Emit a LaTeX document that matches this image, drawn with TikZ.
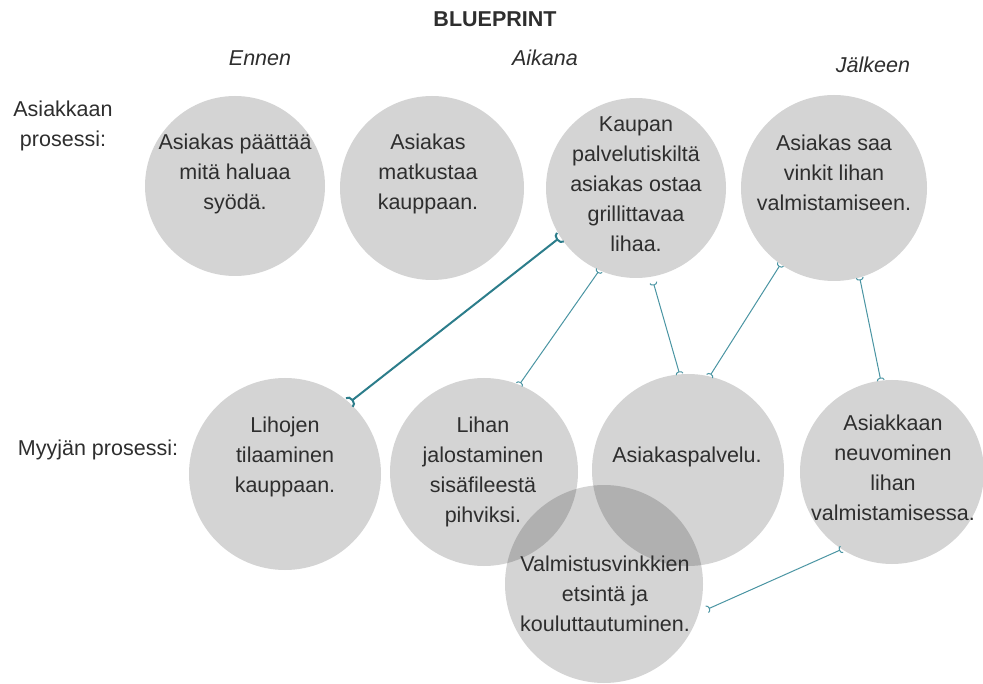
\documentclass[tikz,border=0pt]{standalone}
\usepackage{fontspec}
\setmainfont{Liberation Sans}
\usetikzlibrary{arrows.meta}
\definecolor{txt}{HTML}{2E2E2E}
\definecolor{tealA}{HTML}{2C7D8B}
\definecolor{tealB}{HTML}{4A95A3}
\begin{document}
\begin{tikzpicture}[x=1pt,y=-1pt,
  bubble/.style={circle,fill=black,fill opacity=0.17,inner sep=0pt,draw=none},
  btext/.style={align=center,text=txt,font=\fontsize{21.5}{30}\selectfont,inner sep=0pt},
  lbl/.style={text=txt,font=\fontsize{21.5}{30}\selectfont,align=center,inner sep=0pt},
  thick link/.style={draw=tealA,line width=2pt,{Arc Barb[reversed,width=13pt,length=5pt]}-{Arc Barb[reversed,width=13pt,length=5pt]}},
  thin link/.style={draw=tealB,line width=1pt,{Arc Barb[reversed,width=8pt,length=3pt]}-{Arc Barb[reversed,width=8pt,length=3pt]}}
]
\useasboundingbox (0,0) rectangle (983,684);
\fill[white] (0,0) rectangle (983,684);

% circles
\node[bubble,minimum size=180pt] (c1) at (235,186) {};
\node[bubble,minimum size=184pt] (c2) at (432,188) {};
\node[bubble,minimum size=180pt] (c3) at (636,188) {};
\node[bubble,minimum size=186pt] (c4) at (834,188) {};
\node[bubble,minimum size=192pt] (c5) at (285,474) {};
\node[bubble,minimum size=188pt] (c6) at (484,472) {};
\node[bubble,minimum size=192pt] (c7) at (688,470) {};
\node[bubble,minimum size=184pt] (c8) at (892,472) {};
\node[bubble,minimum size=198pt] (c9) at (604,584) {};

% circle texts
\node[btext] (t1) at (235,174) {Asiakas päättää\\mitä haluaa\\syödä.};
\node[btext] (t2) at (428,174) {Asiakas\\matkustaa\\kauppaan.};
\node[btext] (t3) at (636,184) {Kaupan\\palvelutiskiltä\\asiakas ostaa\\grillittavaa\\lihaa.};
\node[btext] (t4) at (834,173) {Asiakas saa\\vinkit lihan\\valmistamiseen.};
\node[btext] (t5) at (285,457) {Lihojen\\tilaaminen\\kauppaan.};
\node[btext] (t6) at (483,472) {Lihan\\jalostaminen\\sisäfileestä\\pihviksi.};
\node[btext] (t7) at (687,457) {Asiakaspalvelu.};
\node[btext] (t8) at (893,468) {Asiakkaan\\neuvominen\\lihan\\valmistamisessa.};
\node[btext] (t9) at (605,594) {Valmistusvinkkien\\etsintä ja\\kouluttautuminen.};

% labels
\node[lbl,font=\bfseries\fontsize{21.5}{30}\selectfont] (title) at (495,19) {BLUEPRINT};
\node[lbl,font=\itshape\fontsize{21.5}{30}\selectfont] (ennen) at (260,58) {Ennen};
\node[lbl,font=\itshape\fontsize{21.5}{30}\selectfont] (aikana) at (545,58) {Aikana};
\node[lbl,font=\itshape\fontsize{21.5}{30}\selectfont] (jalkeen) at (873,65) {Jälkeen};
\node[lbl] (asproc) at (63,126) {Asiakkaan\\prosessi:};
\node[lbl] (myproc) at (98,450) {Myyjän prosessi:};

% connectors
\draw[thick link] (c3.-147) -- (c5.48);
\draw[thin link] (c3.-114) -- (c6.68);
\draw[thin link,shorten <=6pt] (c3.-80) -- (c7.95);
\draw[thin link] (c4.-125) -- (c7.77);
\draw[thin link] (c4.-74) -- (c8.97);
\draw[thin link,shorten >=9pt] (c8.-123) -- (c9.-17);
\end{tikzpicture}
\end{document}
